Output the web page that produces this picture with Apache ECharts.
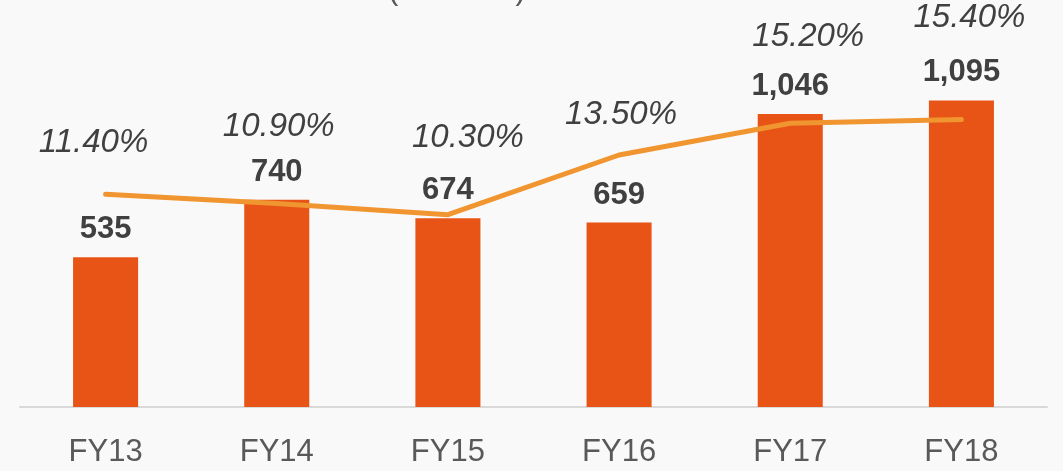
<!DOCTYPE html>
<html>
<head>
<meta charset="utf-8">
<script src="https://cdn.jsdelivr.net/npm/echarts@6/dist/echarts.min.js"></script>
<style>
  html, body { margin: 0; padding: 0; background: #f9f9f9; }
  #main { width: 1063px; height: 471px; }
</style>
</head>
<body>
<div id="main"></div>
<script>
// data
const years = ['FY13', 'FY14', 'FY15', 'FY16', 'FY17', 'FY18']
const profit = [535, 740, 674, 659, 1046, 1095]
const margin = [11.4, 10.9, 10.3, 13.5, 15.2, 15.4]

// the percent labels sit a bit off their points in the original
const marginLabelShift = [[-12, -30], [2, -56], [20, -56], [2, -19], [18, -65], [8, -81]]

const chart = echarts.init(document.getElementById('main'))
chart.setOption({
  backgroundColor: '#f9f9f9',
  animation: false,
  title: {
    text: '(Rs crore)',
    left: 383,
    top: -30,
    textStyle: { fontFamily: 'Liberation Sans', fontSize: 31, fontWeight: 'normal', color: '#595959' }
  },
  grid: { left: 20, right: 16, top: 15, bottom: 64 },
  xAxis: {
    type: 'category',
    data: years,
    axisTick: { show: false },
    axisLine: { lineStyle: { color: '#d9d9d9', width: 2 } },
    axisLabel: { fontFamily: 'Liberation Sans', fontSize: 31, color: '#595959', margin: 30 }
  },
  yAxis: [
    { type: 'value', min: 0, max: 1400, show: false, splitLine: { show: false } },
    { type: 'value', min: 0, max: 21, show: false, splitLine: { show: false } }
  ],
  series: [
    {
      type: 'bar',
      data: profit,
      barWidth: '38%',
      itemStyle: { color: '#e85415' },
      label: {
        show: true,
        position: 'top',
        distance: 12,
        fontFamily: 'Liberation Sans',
        fontSize: 31,
        fontWeight: 'bold',
        color: '#404040',
        formatter: p => p.value.toLocaleString('en-US')
      }
    },
    {
      type: 'line',
      yAxisIndex: 1,
      symbol: 'circle',
      symbolSize: 1,
      showSymbol: true,
      itemStyle: { color: 'rgba(0,0,0,0)' },
      lineStyle: { color: '#f0952f', width: 5, cap: 'round' },
      data: margin.map((v, i) => ({
        value: v,
        label: { offset: marginLabelShift[i] }
      })),
      label: {
        show: true,
        position: 'top',
        distance: 4,
        fontFamily: 'Liberation Sans',
        fontSize: 33,
        fontStyle: 'italic',
        color: '#404040',
        formatter: p => p.value.toFixed(2) + '%'
      }
    }
  ]
})
</script>
</body>
</html>
